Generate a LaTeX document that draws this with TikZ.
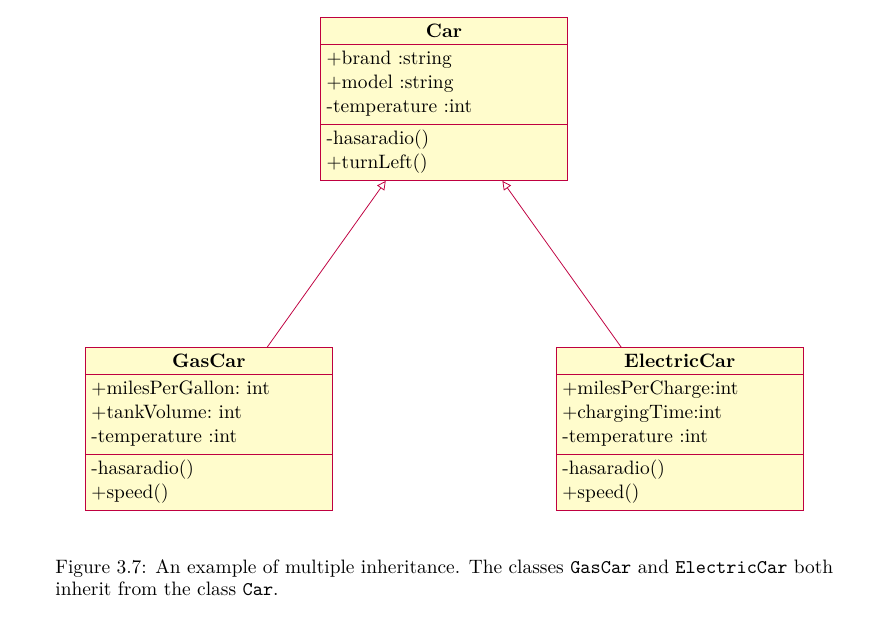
\documentclass[tikz,border=0pt]{standalone}
\usepackage{tikz}
\usetikzlibrary{shapes.multipart,arrows.meta}
\usepackage{xcolor}

\tikzset{
  umlclass/.style={rectangle split, rectangle split parts=3, draw=purple, fill=yellow!20,
    text width=121pt, inner xsep=3.33pt, inner ysep=1.9pt, align=left, anchor=north,
    font=\fontsize{10}{12.37}\selectfont},
  inherit/.style={draw=purple, -{Triangle[open,length=4.5pt,width=4.5pt,fill=white]}},
  caption/.style={anchor=base west, text width=401pt, align=justify, inner sep=0pt,
    font=\fontsize{10}{11.6}\selectfont}
}
\newcommand{\member}[1]{\rule[-3.87pt]{0pt}{12.37pt}#1}
\newcommand{\classname}[1]{\rule[-1.2pt]{0pt}{9.5pt}\makebox[\linewidth]{\textbf{#1}}}

\begin{document}
\begin{tikzpicture}[x=0.5155pt,y=-0.5155pt]
    \useasboundingbox (0,0) rectangle (893,619);

    \node [umlclass] (car) at (444,17.3) {\classname{Car}
      \nodepart{second}\member{$+$brand :string}\\ \member{$+$model :string}\\ \member{-temperature :int}
      \nodepart{third}\member{-hasaradio()}\\ \member{$+$turnLeft()}};

    \node [umlclass] (gascar) at (208.8,347.3) {\classname{GasCar}
      \nodepart{second}\member{$+$milesPerGallon:\ int}\\ \member{$+$tankVolume:\ int}\\ \member{-temperature :int}
      \nodepart{third}\member{-hasaradio()}\\ \member{$+$speed()}};

    \node [umlclass] (electriccar) at (679.7,347.3) {\classname{ElectricCar}
      \nodepart{second}\member{$+$milesPerCharge:int}\\ \member{$+$chargingTime:int}\\ \member{-temperature :int}
      \nodepart{third}\member{-hasaradio()}\\ \member{$+$speed()}};

    \draw [inherit] (gascar) -- (car);
    \draw [inherit] (electriccar) -- (car);

    \node [caption] (fig) at (55,573) {Figure 3.7: An example of multiple inheritance. The classes \texttt{GasCar} and \texttt{ElectricCar} both\linebreak
      inherit from the class \texttt{Car}.};
\end{tikzpicture}
\end{document}
